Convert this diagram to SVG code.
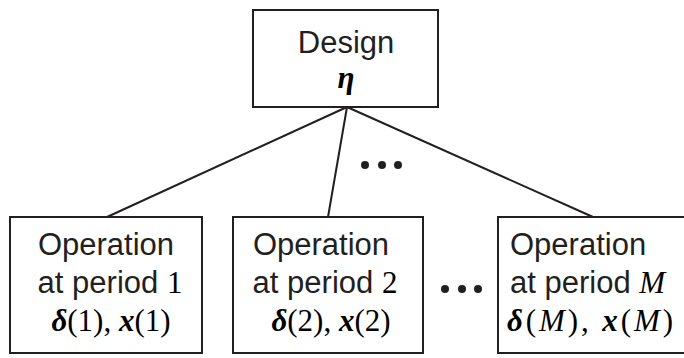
<svg xmlns="http://www.w3.org/2000/svg" width="684" height="358" viewBox="0 0 684 358">
<style>
.box{fill:#fff;stroke:#231f20;stroke-width:2}
.lbl{font-family:"Liberation Sans",Arial,sans-serif;font-size:31px;fill:#231f20}
.m{font-family:"Liberation Serif","Times New Roman",serif;font-size:31px;fill:#000}
.bi{font-weight:bold;font-style:italic}
.it{font-style:italic}
.conn{stroke:#231f20;stroke-width:2;fill:none}
.dot{fill:#231f20}
</style>
<rect width="684" height="358" fill="#fff"/>
<g id="connectors">
<line class="conn" x1="347" y1="107" x2="107" y2="217"/>
<line class="conn" x1="347" y1="107" x2="328" y2="217"/>
<line class="conn" x1="347" y1="107" x2="593" y2="217"/>
<circle class="dot" cx="365" cy="165" r="4"/>
<circle class="dot" cx="382" cy="165" r="4"/>
<circle class="dot" cx="398" cy="165" r="4"/>
<circle class="dot" cx="445" cy="289" r="4"/>
<circle class="dot" cx="462" cy="289" r="4"/>
<circle class="dot" cx="478" cy="289" r="4"/>
</g>
<g id="design">
<rect class="box" x="253" y="10" width="185" height="97"/>
<text class="lbl" x="346" y="53" text-anchor="middle">Design</text>
<text class="m bi" x="346" y="88" text-anchor="middle">η</text>
</g>
<g id="op1">
<rect class="box" x="10" y="217" width="192" height="136"/>
<text class="lbl" x="106" y="255" text-anchor="middle">Operation</text>
<text class="lbl" x="110" y="293" text-anchor="middle">at period <tspan class="m">1</tspan></text>
<text class="m" x="111" y="331" text-anchor="middle"><tspan class="bi">δ</tspan>(1), <tspan class="bi">x</tspan>(1)</text>
</g>
<g id="op2">
<rect class="box" x="233" y="217" width="190" height="136"/>
<text class="lbl" x="321" y="255" text-anchor="middle">Operation</text>
<text class="lbl" x="325" y="293" text-anchor="middle">at period <tspan class="m">2</tspan></text>
<text class="m" x="331" y="331" text-anchor="middle"><tspan class="bi">δ</tspan>(2), <tspan class="bi">x</tspan>(2)</text>
</g>
<g id="opM">
<rect class="box" x="498" y="217" width="190" height="136"/>
<text class="lbl" x="510" y="255">Operation</text>
<text class="lbl" x="510" y="293">at period <tspan class="m it">M</tspan></text>
<text class="m" x="507" y="331" textLength="166" lengthAdjust="spacing"><tspan class="bi">δ</tspan>(<tspan class="it">M</tspan>), <tspan class="bi">x</tspan>(<tspan class="it">M</tspan>)</text>
</g>
</svg>
